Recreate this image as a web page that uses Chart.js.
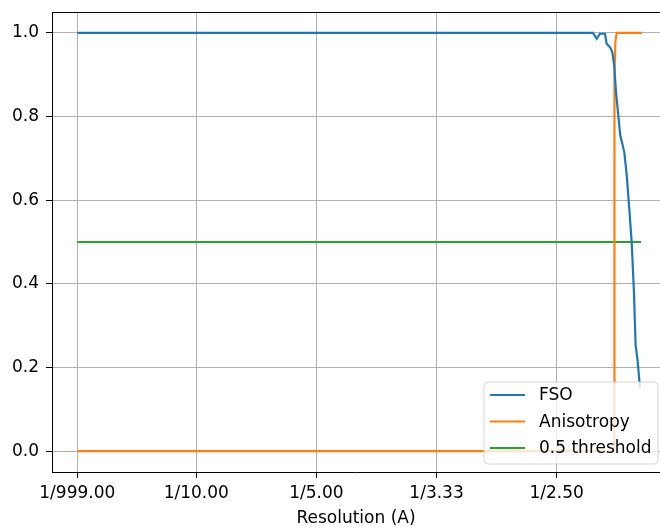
<!DOCTYPE html>
<html>
<head>
<meta charset="utf-8">
<script src="https://cdn.jsdelivr.net/npm/chart.js@4/dist/chart.umd.min.js"></script>
<style>
html,body{margin:0;padding:0;background:#fff;overflow:hidden;}
canvas{display:block;}
</style>
</head>
<body>
<canvas id="c" width="660" height="529"></canvas>
<script>
// ---- data (spatial frequency, 1/A) ----
const fsoFreq   = [0.001, 0.4302, 0.4333, 0.4360, 0.4402, 0.4416, 0.4444, 0.4463, 0.4479, 0.4494, 0.4513, 0.4529, 0.4563, 0.4583, 0.4604, 0.4624, 0.4643, 0.4657, 0.4674, 0.4693];
const fsoValues = [1.0,   1.0,    0.986,  0.998,  0.998,  0.974,  0.966,  0.954,  0.922,  0.858,  0.803,  0.755,  0.715,  0.660,  0.581,  0.501,  0.381,  0.254,  0.215,  0.152];
const anisoFreq   = [0.001, 0.4479, 0.4481, 0.4489, 0.4500, 0.4708];
const anisoValues = [0.0,   0.0,    0.90,   0.98,   1.0,    1.0];
const threshFreq   = [0.001, 0.4702];
const threshValues = [0.5,   0.5];
const xTickValues = [0.001, 0.1, 0.2, 0.3, 0.4];
const xTickLabels = ["1/999.00", "1/10.00", "1/5.00", "1/3.33", "1/2.50"];
const yTickValues = [0.0, 0.2, 0.4, 0.6, 0.8, 1.0];
const seriesNames = ["FSO", "Anisotropy", "0.5 threshold"];
const seriesColors = ["#1f77b4", "#ff7f0e", "#2ca02c"];

const pts = (xs, ys) => xs.map((x, i) => ({x: x, y: ys[i]}));

const FONT = "DejaVu Sans";
const FS = 17;
Chart.defaults.font.family = FONT;
Chart.defaults.font.size = FS;
Chart.defaults.color = "#000";

const frameAndLegend = {
  id: "frameAndLegend",
  beforeDatasetsDraw(chart) {
    const {ctx, chartArea: a} = chart;
    ctx.save();
    ctx.strokeStyle = "#000";
    ctx.lineWidth = 1;
    ctx.beginPath();
    ctx.moveTo(a.left, a.top + 0.5);
    ctx.lineTo(a.right, a.top + 0.5);
    ctx.stroke();
    ctx.restore();
  },
  afterDatasetsDraw(chart) {
    const ctx = chart.ctx;
    const bx = 484, by = 382, bw = 174, bh = 82, r = 4;
    ctx.save();
    ctx.beginPath();
    ctx.moveTo(bx + r, by);
    ctx.lineTo(bx + bw - r, by);
    ctx.arcTo(bx + bw, by, bx + bw, by + r, r);
    ctx.lineTo(bx + bw, by + bh - r);
    ctx.arcTo(bx + bw, by + bh, bx + bw - r, by + bh, r);
    ctx.lineTo(bx + r, by + bh);
    ctx.arcTo(bx, by + bh, bx, by + bh - r, r);
    ctx.lineTo(bx, by + r);
    ctx.arcTo(bx, by, bx + r, by, r);
    ctx.closePath();
    ctx.fillStyle = "rgba(255,255,255,0.8)";
    ctx.fill();
    ctx.strokeStyle = "rgba(204,204,204,0.8)";
    ctx.lineWidth = 1;
    ctx.stroke();
    const rows = [395, 421.5, 448];
    chart.data.datasets.forEach((ds, i) => {
      const y = rows[i];
      ctx.strokeStyle = ds.borderColor;
      ctx.lineWidth = 2.2;
      ctx.beginPath();
      ctx.moveTo(490, y);
      ctx.lineTo(525, y);
      ctx.stroke();
      ctx.fillStyle = "#000";
      ctx.font = FS + "px '" + FONT + "'";
      ctx.textBaseline = "middle";
      ctx.textAlign = "left";
      ctx.fillText(ds.label, 539, y + 1);
    });
    ctx.restore();
  }
};

new Chart(document.getElementById("c"), {
  type: "line",
  data: {
    datasets: [
      {label: seriesNames[0], data: pts(fsoFreq, fsoValues), borderColor: seriesColors[0]},
      {label: seriesNames[1], data: pts(anisoFreq, anisoValues), borderColor: seriesColors[1]},
      {label: seriesNames[2], data: pts(threshFreq, threshValues), borderColor: seriesColors[2]}
    ]
  },
  options: {
    responsive: false,
    animation: false,
    layout: {padding: {top: 12, right: 0, left: 0, bottom: 0}},
    elements: {
      point: {radius: 0, hoverRadius: 0},
      line: {borderWidth: 2.2, tension: 0, fill: false}
    },
    plugins: {legend: {display: false}, tooltip: {enabled: false}},
    scales: {
      x: {
        type: "linear",
        min: -0.02006,
        max: 0.4860,
        afterBuildTicks: s => { s.ticks = xTickValues.map(v => ({value: v})); },
        afterFit: s => { s.height = 57; s.paddingLeft = 0; s.paddingRight = 0; },
        ticks: {
          autoSkip: false,
          maxRotation: 0,
          padding: 5,
          callback: v => { const i = xTickValues.indexOf(v); return i >= 0 ? xTickLabels[i] : ""; }
        },
        grid: {color: "#b0b0b0", lineWidth: 1, tickLength: 6, tickColor: "#000", drawTicks: true},
        border: {color: "#000", width: 1},
        title: {display: true, text: "Resolution (A)", padding: {top: 0, bottom: 0}}
      },
      y: {
        type: "linear",
        min: -0.05,
        max: 1.05,
        afterBuildTicks: s => { s.ticks = yTickValues.map(v => ({value: v})); },
        afterFit: s => { s.width = 52; s.paddingTop = 0; s.paddingBottom = 0; },
        ticks: {
          padding: 7,
          callback: v => Number(v).toFixed(1)
        },
        grid: {color: "#b0b0b0", lineWidth: 1, tickLength: 6, tickColor: "#000", drawTicks: true},
        border: {color: "#000", width: 1}
      }
    }
  },
  plugins: [frameAndLegend]
});
</script>
</body>
</html>
